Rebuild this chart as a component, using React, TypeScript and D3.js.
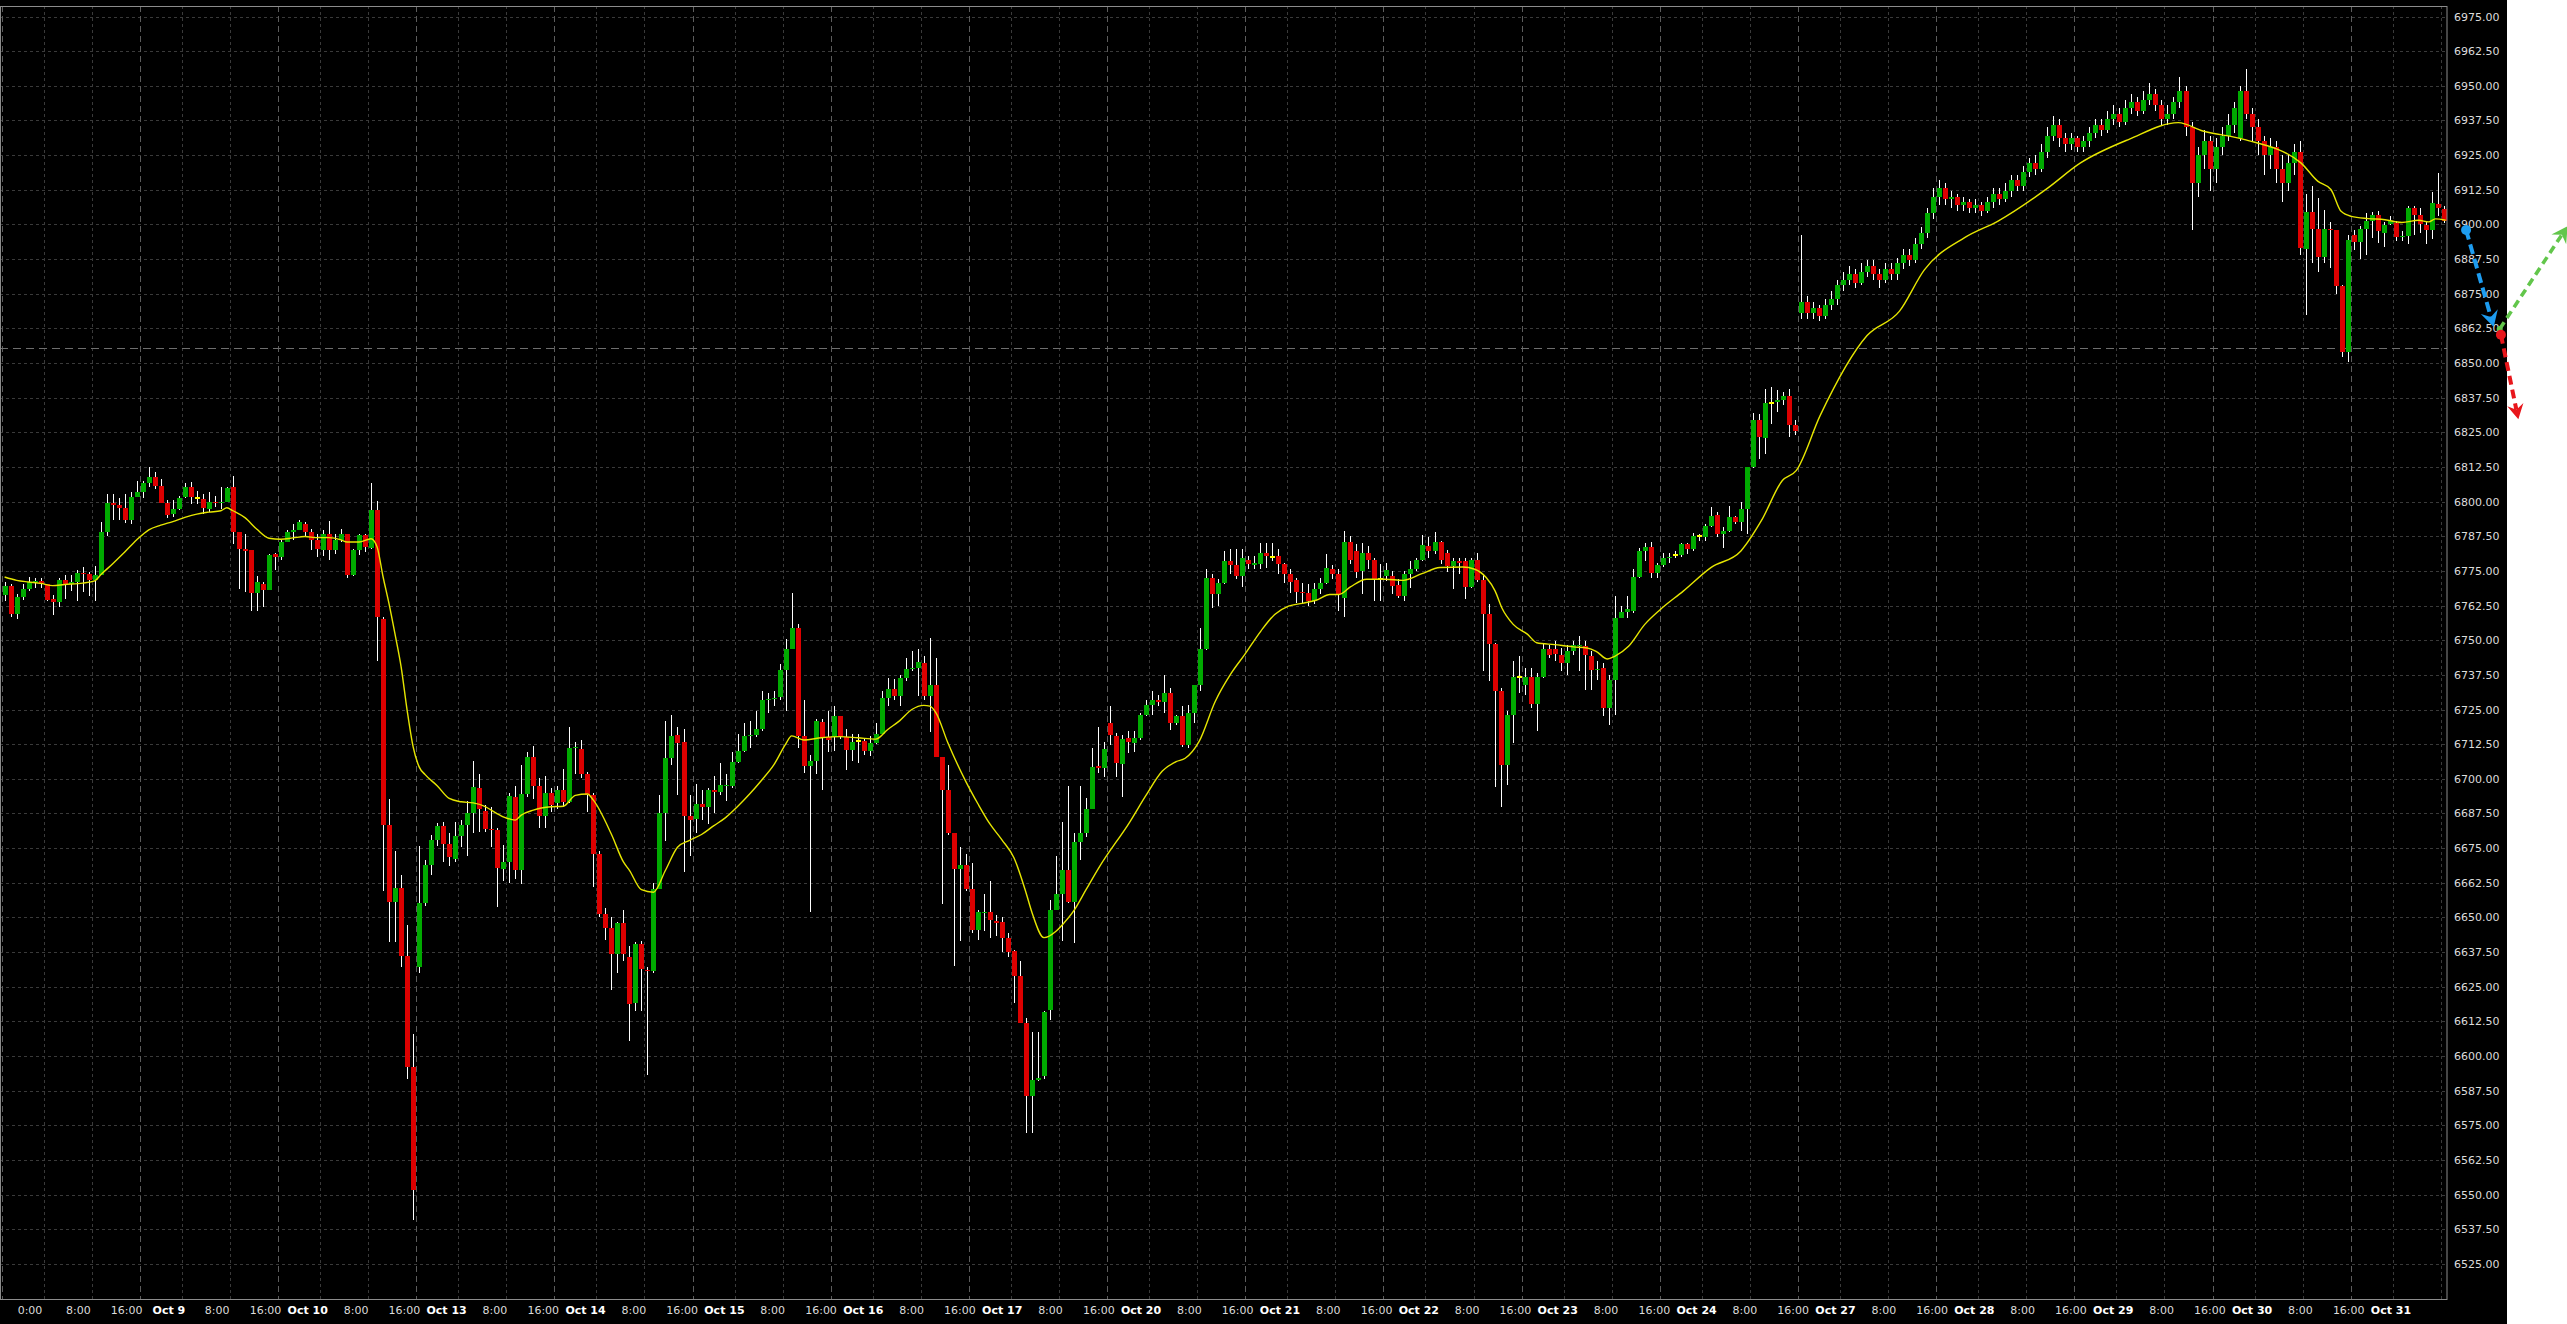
import * as d3 from "d3";

type Bar = [number, number, number, number]; // open, high, low, close

// hourly bars, one array per trading session (23 bars each)
const oct08: Bar[] = [
  [6766.2, 6771, 6764, 6769.6], [6769.6, 6770.4, 6758.4, 6759.6], [6759.6, 6766.8, 6757.8, 6765.6],
  [6765.6, 6770.2, 6764.4, 6768.4], [6768.4, 6772.8, 6767.8, 6771], [6771, 6772.5, 6769, 6771.5],
  [6771.5, 6772.4, 6769, 6770.2], [6770.2, 6770.4, 6764.2, 6764.4], [6764.8, 6766.2, 6759, 6763.7],
  [6763.7, 6772.6, 6762, 6771.6], [6771.6, 6773.4, 6765, 6770.2], [6770.2, 6773.4, 6767.8, 6771],
  [6771, 6775.2, 6764.2, 6774.4], [6774.4, 6776.4, 6767.4, 6773.8], [6773.8, 6774.6, 6765.8, 6771.6],
  [6771.6, 6776.6, 6764.2, 6773.4], [6773.4, 6792.8, 6773.4, 6789], [6789, 6802.8, 6787.6, 6799.4],
  [6799.4, 6802.6, 6793.4, 6798.6], [6798.6, 6801.4, 6793.2, 6797.6], [6797.6, 6802.6, 6792.2, 6793.4],
  [6793.2, 6803.4, 6792, 6801.8], [6801.8, 6807.6, 6801.6, 6803.4],
];
const oct09: Bar[] = [
  [6803.4, 6807.6, 6801.4, 6806.6], [6806.6, 6812.4, 6805.2, 6808.8], [6808.8, 6810.6, 6804.6, 6805.8],
  [6805.8, 6808.2, 6799.4, 6799.4], [6799.4, 6800.4, 6794.2, 6795], [6795.4, 6800.4, 6794.6, 6797.2],
  [6797.2, 6802.2, 6796.8, 6801.4], [6801.8, 6806.6, 6801.4, 6805.2], [6805.2, 6807, 6799.2, 6801.6],
  [6801.2, 6804, 6799, 6801.2], [6801, 6802.8, 6795.6, 6797.6], [6797.2, 6803.4, 6796.2, 6800],
  [6800, 6802.2, 6798, 6799.4], [6799.4, 6805.4, 6797.4, 6800], [6800, 6805.2, 6799.8, 6804.8],
  [6805.2, 6809.4, 6784.8, 6789], [6789, 6789, 6768.4, 6782.8], [6782.8, 6788.2, 6767.4, 6782],
  [6782.4, 6782.4, 6760.6, 6767], [6767, 6773, 6760.6, 6771], [6770.4, 6771, 6762, 6768],
  [6768, 6781.2, 6768, 6780.8], [6781, 6781.4, 6775.2, 6780],
];
const oct10: Bar[] = [
  [6780, 6786, 6778.8, 6785.4], [6785.4, 6789.8, 6785.4, 6789.2], [6789.2, 6792, 6786, 6789.8],
  [6789.8, 6793.2, 6789.6, 6792.6], [6792, 6792.6, 6787.2, 6789], [6789, 6790.2, 6782.4, 6786],
  [6786, 6788.4, 6780, 6783], [6782.4, 6789.6, 6780.2, 6788.4], [6788.4, 6793, 6779, 6782.4],
  [6782.4, 6788.4, 6781.2, 6786.2], [6786.2, 6790.2, 6785.4, 6788.4], [6788.2, 6788.4, 6772.6, 6773.4],
  [6773.4, 6783, 6773, 6782.4], [6782.4, 6788.4, 6780.6, 6788], [6787.8, 6788.4, 6781.8, 6783.6],
  [6783.4, 6806.6, 6783, 6796.8], [6796.8, 6800.2, 6742.5, 6758.4], [6757.6, 6758.3, 6659.4, 6683.2],
  [6683.2, 6692.8, 6641.2, 6655.6], [6655.6, 6673.8, 6641.2, 6660.6], [6660.6, 6665.4, 6632, 6636.1],
  [6636.1, 6647.2, 6591.8, 6595.9], [6595.9, 6607.8, 6541, 6551.6],
];
const oct13: Bar[] = [
  [6632, 6675.6, 6629.8, 6655.1], [6655.1, 6670.8, 6654, 6668.9], [6668.9, 6679.9, 6665.4, 6677.9],
  [6677.9, 6684, 6675.8, 6682.9], [6682.9, 6684.4, 6670, 6676.4], [6676.4, 6680.6, 6668.5, 6671.8],
  [6671.2, 6684.4, 6670, 6679.4], [6679.4, 6685.2, 6675.3, 6683.3], [6683.3, 6692, 6672.3, 6687.5],
  [6687.5, 6706.4, 6680.6, 6697], [6696.6, 6701.6, 6680.9, 6689], [6688.5, 6690.5, 6680.9, 6681.8],
  [6681.8, 6689.7, 6675.3, 6681.4], [6681.4, 6682.1, 6653.6, 6668], [6667.4, 6676, 6663.2, 6670],
  [6670, 6695, 6662.4, 6693.8], [6693.5, 6697.3, 6664, 6667], [6667, 6704.9, 6662.1, 6694.6],
  [6694.6, 6709.5, 6693.5, 6707.9], [6707.9, 6711.7, 6692.8, 6697.3], [6697.3, 6700.4, 6682.4, 6686.4],
  [6686.4, 6701.1, 6682.1, 6695], [6695, 6696.6, 6688.2, 6690.5],
];
const oct14: Bar[] = [
  [6691.3, 6697.3, 6689, 6696.1], [6695.8, 6703.4, 6689.7, 6691.5], [6691.5, 6718.6, 6691.2, 6711],
  [6711, 6713.3, 6701.9, 6711.3], [6710.7, 6714, 6700.4, 6701.6], [6701.6, 6702.6, 6688.2, 6694.3],
  [6694.3, 6695, 6660.9, 6673], [6672.7, 6673.8, 6650.3, 6651.3], [6651.3, 6653.3, 6641.9, 6646],
  [6646, 6650.3, 6623.7, 6636.9], [6636.9, 6648.4, 6629.8, 6648], [6648, 6652.5, 6634.3, 6636.9],
  [6635.8, 6639.6, 6605.5, 6618.7], [6619.1, 6641.2, 6616.1, 6640.4], [6640.4, 6641.5, 6616.1, 6631.3],
  [6631, 6632, 6593.3, 6630.6], [6630.8, 6662.4, 6629.8, 6660.4], [6660.4, 6694.3, 6660.1, 6687.8],
  [6687.8, 6720.8, 6677.6, 6707.6], [6707.6, 6723.1, 6704.9, 6715.5], [6715.8, 6718.6, 6694.3, 6713],
  [6713.2, 6717.8, 6666.2, 6686.4], [6686.4, 6694.3, 6672.3, 6685.2],
];
const oct15: Bar[] = [
  [6685.5, 6698.1, 6680.6, 6691], [6691, 6695.8, 6685.2, 6689.7], [6689.7, 6696.6, 6683.7, 6695.8],
  [6695.8, 6701.1, 6687.5, 6695.1], [6695.1, 6705.7, 6694.3, 6697.6], [6697.3, 6701.9, 6692, 6697.6],
  [6697.3, 6709.5, 6696.6, 6706.1], [6706.1, 6716.3, 6705.7, 6710.2], [6710.2, 6720.1, 6709.5, 6715.5],
  [6715.5, 6720.8, 6711, 6715.8], [6715.8, 6724.6, 6715.2, 6717.8], [6717.8, 6731.5, 6717.4, 6728.4],
  [6728.4, 6731, 6723.9, 6728.9], [6729, 6731.5, 6726.2, 6729.2], [6729.5, 6741.3, 6728.4, 6739.1],
  [6739.1, 6750.5, 6724.6, 6747], [6747, 6767.1, 6747, 6754.5], [6754.5, 6755.8, 6711, 6715.5],
  [6715.5, 6728.4, 6702.2, 6704.5], [6704.5, 6708.7, 6651.8, 6706.4], [6706.4, 6721.6, 6701.9, 6720.8],
  [6720.5, 6721.6, 6695.8, 6715.2], [6715.2, 6724.6, 6709.5, 6714],
];
const oct16: Bar[] = [
  [6715.2, 6726.2, 6710.2, 6722.8], [6722.8, 6722.8, 6714.3, 6715.2], [6715.2, 6717.8, 6703.1, 6710.5],
  [6710.5, 6716.3, 6706.4, 6713.3], [6713.6, 6716.3, 6705.7, 6713.6], [6713.7, 6714.8, 6708.7, 6710.2],
  [6710.2, 6715.5, 6708.3, 6712.8], [6712.8, 6720.1, 6712.5, 6716.3], [6716.3, 6731.5, 6716.3, 6729.2],
  [6729.2, 6736.5, 6726.2, 6732.5], [6732.5, 6736, 6728.4, 6729.9], [6729.9, 6737.5, 6726.2, 6736.5],
  [6736.5, 6743.6, 6735.3, 6739.5], [6739.5, 6746.2, 6739, 6740.1], [6740.1, 6746.7, 6730, 6742.1],
  [6741.6, 6744.4, 6728.4, 6729.9], [6729.9, 6750.7, 6717, 6733.7], [6733.7, 6743.6, 6707.9, 6707.9],
  [6707.9, 6707.9, 6654.8, 6696.1], [6696.1, 6704.9, 6679.9, 6680.6], [6680.6, 6680.6, 6632.4, 6667.3],
  [6667.3, 6675.3, 6641.5, 6669], [6669, 6673, 6659.4, 6660.1],
];
const oct17: Bar[] = [
  [6660.1, 6669.7, 6644.5, 6645.3], [6645.3, 6652.5, 6641.9, 6651.8], [6651.6, 6658.6, 6645, 6651.8],
  [6651.8, 6663.2, 6642.7, 6649], [6648.7, 6651, 6643.4, 6648], [6648.3, 6650.3, 6637.4, 6642.4],
  [6642.4, 6644.2, 6635.8, 6637.4], [6637.8, 6638.1, 6619.1, 6628.7], [6628.7, 6634.3, 6612, 6612],
  [6612, 6613.8, 6572.1, 6585.7], [6585.7, 6608.5, 6572.1, 6591.4], [6591.4, 6608.5, 6591, 6592.1],
  [6592.9, 6616.1, 6591.8, 6615.7], [6616.6, 6656.3, 6613, 6652.8], [6652.8, 6672.3, 6652.5, 6658.6],
  [6658.6, 6684.4, 6641.5, 6667], [6667, 6697.3, 6655.1, 6655.6], [6655.6, 6680.6, 6640.9, 6677.3],
  [6677.3, 6697.3, 6670.8, 6680.6], [6680.6, 6693, 6679.1, 6689], [6689, 6711, 6689, 6704.2],
  [6704.6, 6718.6, 6702, 6703.9], [6703.8, 6713.4, 6700.8, 6710.7],
];
const oct20: Bar[] = [
  [6720.3, 6726.1, 6712.2, 6715.9], [6715.6, 6716.4, 6700.8, 6705.6], [6705.4, 6715.9, 6693.5, 6714.3],
  [6714.6, 6717.1, 6709.2, 6713.1], [6712.8, 6717.1, 6709.8, 6714.6], [6714.6, 6723.7, 6714, 6722.9],
  [6722.9, 6728.5, 6722.5, 6726.7], [6726.7, 6731.5, 6723.1, 6728.6], [6728.6, 6730.3, 6726.1, 6727.7],
  [6727.7, 6737.6, 6723.7, 6731], [6731, 6732.8, 6717.7, 6720.1], [6720.1, 6723.1, 6719.5, 6722.5],
  [6722.5, 6726.1, 6711.6, 6712.2], [6712.2, 6726.7, 6711, 6723.7], [6723.7, 6734, 6720.1, 6733.7],
  [6733.7, 6754.5, 6731.5, 6747], [6747, 6775.6, 6746.6, 6772.3], [6772.6, 6773.8, 6761.7, 6766.5],
  [6766.5, 6772, 6762.3, 6770.8], [6770.8, 6782.2, 6770.2, 6778.6], [6778.6, 6782.8, 6773.8, 6777.2],
  [6777.2, 6782.8, 6772, 6773.2], [6773.2, 6782.8, 6769.2, 6779.8],
];
const oct21: Bar[] = [
  [6778.8, 6780.4, 6775.6, 6777.4], [6777.2, 6780.4, 6775.6, 6778], [6777.6, 6784.9, 6775.6, 6781.6],
  [6781.6, 6785.2, 6776.2, 6780.4], [6780, 6784.9, 6778.6, 6780], [6780.4, 6782.8, 6773.8, 6777.4],
  [6777.4, 6778, 6770.8, 6774], [6773.8, 6775.6, 6767.1, 6771], [6771.6, 6772.6, 6763.5, 6767.5],
  [6767.5, 6770.8, 6763.5, 6766.9], [6767.1, 6770.4, 6762.3, 6764.1], [6764.1, 6770.8, 6762.9, 6768.3],
  [6768.3, 6772.6, 6766.5, 6770.5], [6770.5, 6781, 6770.2, 6776.2], [6775.6, 6777.2, 6772, 6773.8],
  [6773.8, 6775.6, 6760.7, 6766.5], [6765.1, 6789.5, 6758.3, 6785.6], [6785.6, 6787.7, 6777.4, 6778.8],
  [6782.2, 6784.6, 6772.6, 6774.7], [6775, 6785.2, 6766.8, 6781.6], [6781.3, 6784, 6775.6, 6778.8],
  [6778.8, 6779.8, 6764.1, 6772], [6772, 6777.6, 6764.1, 6772],
];
const oct22: Bar[] = [
  [6773.2, 6778, 6771.4, 6775.2], [6773.2, 6775, 6766.5, 6769.6], [6769.9, 6772, 6765.3, 6765.9],
  [6765.9, 6775, 6764.1, 6773.8], [6773.8, 6778.6, 6769, 6775.6], [6775.6, 6779.8, 6775, 6778.8],
  [6778.8, 6788, 6778.6, 6784.3], [6784, 6787.1, 6779.8, 6782], [6782, 6788.9, 6781, 6785.5],
  [6785.5, 6785.8, 6777.4, 6778.8], [6781.6, 6782.5, 6774.7, 6776.8], [6776.6, 6779.8, 6768.3, 6778.6],
  [6778.6, 6779.6, 6773.8, 6778], [6778.6, 6779.8, 6764.7, 6769.2], [6769.2, 6779.8, 6769, 6778.8],
  [6778.8, 6781.3, 6771.1, 6771.6], [6771.6, 6773.8, 6738.8, 6759.3], [6759.3, 6762.9, 6735.2, 6748.7],
  [6748.7, 6749.1, 6697.2, 6731.5], [6731.5, 6732.7, 6689.9, 6705], [6705, 6724.3, 6697.8, 6722.9],
  [6722.9, 6742.4, 6712.8, 6736.6], [6736.9, 6744.2, 6730.9, 6736.9],
];
const oct23: Bar[] = [
  [6734, 6740, 6730.3, 6736.6], [6736.6, 6740, 6725.5, 6727], [6727, 6738.2, 6717.1, 6736.6],
  [6736.6, 6749.1, 6736.4, 6747], [6747, 6748.4, 6743.6, 6744.8], [6747, 6749.6, 6742.4, 6745.1],
  [6744.8, 6747.2, 6738.8, 6741.8], [6741.8, 6748.4, 6737.6, 6746.1], [6746.1, 6749.6, 6744.8, 6748.2],
  [6747.8, 6751.4, 6738.8, 6748.2], [6747.8, 6749.6, 6732.2, 6744.8], [6744.2, 6746, 6732.2, 6739.4],
  [6739.4, 6742.4, 6735.8, 6739.5], [6740, 6741.8, 6722.5, 6725.5], [6725.5, 6737.6, 6719.5, 6735.8],
  [6735.8, 6765.9, 6723.1, 6758.1], [6758.1, 6762.3, 6758.1, 6760.3], [6760.3, 6765.9, 6758.1, 6761.1],
  [6760.7, 6775.6, 6759.9, 6772.8], [6772.8, 6783.4, 6772.6, 6782.2], [6782.2, 6785.2, 6778.6, 6783.7],
  [6783.7, 6785.5, 6772.6, 6774.4], [6774.4, 6778, 6772.6, 6777.2],
];
const oct24: Bar[] = [
  [6777.2, 6781.6, 6776.4, 6779.6], [6779.6, 6781.6, 6778, 6780.1], [6780.7, 6782, 6779.8, 6780.7],
  [6780.7, 6785.2, 6780.1, 6784.6], [6784.6, 6785.2, 6781, 6782.8], [6782.8, 6788.5, 6782.2, 6787.7],
  [6787.7, 6788.3, 6785.8, 6787.7], [6787.4, 6791.9, 6785.8, 6791.3], [6791.3, 6798.1, 6790.7, 6794.9],
  [6795.3, 6796.1, 6787.1, 6788.3], [6788.3, 6790.7, 6783.4, 6789.5], [6789.5, 6798.5, 6788.9, 6794.3],
  [6794.3, 6794.9, 6791.9, 6792.8], [6792.8, 6799.7, 6789.5, 6797.3], [6797.3, 6812.6, 6788.3, 6812.6],
  [6812.6, 6831.9, 6812.1, 6829.3], [6829.3, 6831.7, 6815.4, 6823.2], [6823, 6840.7, 6817.2, 6835.7],
  [6835.6, 6841.3, 6828.1, 6835.6], [6835.9, 6840.4, 6832.3, 6836.8], [6836.8, 6839.5, 6834.7, 6838],
  [6838, 6840.7, 6823.2, 6827.5], [6827.5, 6829.3, 6823.9, 6825.4],
];
const oct27: Bar[] = [
  [6868, 6896, 6866, 6872], [6872, 6874, 6866, 6868], [6868, 6872, 6866, 6870], [6870, 6871, 6865, 6867],
  [6867, 6873, 6866, 6871], [6871, 6876, 6869, 6873], [6873, 6880, 6871, 6878], [6878, 6883, 6876, 6880],
  [6880, 6885, 6878, 6882], [6882, 6884, 6877, 6879], [6879, 6886, 6878, 6883], [6883, 6887, 6881, 6885],
  [6885, 6887, 6880, 6882], [6882, 6884, 6877, 6880], [6880, 6886, 6879, 6884], [6884, 6886, 6880, 6882],
  [6882, 6888, 6880, 6886], [6886, 6891, 6884, 6889], [6889, 6891, 6885, 6887], [6887, 6895, 6886, 6893],
  [6893, 6899, 6891, 6897], [6897, 6906, 6895, 6904], [6904, 6913, 6902, 6910],
];
const oct28: Bar[] = [
  [6910, 6916, 6907, 6913], [6913, 6915, 6907, 6909], [6909, 6912, 6906, 6910], [6910, 6911, 6905, 6907],
  [6907, 6910, 6905, 6908], [6908, 6909, 6904, 6906], [6906, 6909, 6904, 6907], [6907, 6908, 6903, 6905],
  [6905, 6910, 6904, 6908], [6908, 6913, 6906, 6911], [6911, 6913, 6907, 6909], [6909, 6915, 6908, 6912],
  [6912, 6918, 6910, 6916], [6916, 6918, 6912, 6914], [6914, 6921, 6912, 6919], [6919, 6924, 6917, 6922],
  [6922, 6925, 6918, 6920], [6920, 6929, 6919, 6926], [6926, 6935, 6924, 6932], [6932, 6939, 6930, 6936],
  [6936, 6938, 6928, 6931], [6931, 6933, 6926, 6929], [6929, 6933, 6927, 6931],
];
const oct29: Bar[] = [
  [6931, 6932, 6926, 6928], [6928, 6932, 6926, 6930], [6930, 6935, 6928, 6933], [6933, 6938, 6931, 6936],
  [6936, 6938, 6932, 6934], [6934, 6941, 6933, 6938], [6938, 6943, 6936, 6940], [6940, 6942, 6935, 6937],
  [6937, 6945, 6936, 6942], [6942, 6947, 6940, 6944], [6944, 6946, 6939, 6941], [6941, 6948, 6940, 6945],
  [6945, 6951, 6943, 6947], [6947, 6949, 6941, 6943], [6943, 6945, 6936, 6938], [6938, 6943, 6936, 6940],
  [6940, 6946, 6938, 6944], [6944, 6953, 6942, 6948], [6948, 6950, 6932, 6935], [6935, 6937, 6898, 6915],
  [6915, 6928, 6910, 6925], [6925, 6934, 6920, 6930], [6930, 6932, 6912, 6920],
];
const oct30: Bar[] = [
  [6920, 6931, 6915, 6928], [6928, 6935, 6925, 6932], [6932, 6940, 6930, 6936], [6936, 6944, 6933, 6942],
  [6931, 6950, 6930, 6948], [6948, 6956, 6938, 6940], [6940, 6942, 6930, 6935], [6935, 6938, 6925, 6930],
  [6930, 6932, 6918, 6925], [6925, 6931, 6920, 6928], [6928, 6930, 6915, 6920], [6920, 6925, 6908, 6915],
  [6915, 6925, 6912, 6922], [6922, 6929, 6918, 6926], [6926, 6930, 6889, 6891.5], [6891.2, 6910.8, 6867.3, 6904.4],
  [6904.4, 6914, 6886, 6898.5], [6898.5, 6909.5, 6883, 6888.1], [6888.1, 6905.3, 6886, 6898.5],
  [6898.5, 6900.7, 6884.2, 6897.8], [6898.1, 6898.1, 6874.9, 6877.6], [6877.6, 6878.2, 6852.3, 6853.8],
  [6854.1, 6896.3, 6850.4, 6894.5],
];
const oct31: Bar[] = [
  [6896.3, 6898.1, 6890.8, 6893.5], [6893.5, 6899.3, 6887.5, 6898.5], [6898.5, 6904.1, 6889, 6901.3],
  [6901.3, 6904.4, 6895, 6903.4], [6903.4, 6905, 6893.3, 6897.5], [6896.9, 6900.7, 6892, 6899.9],
  [6900.3, 6903.2, 6899.9, 6901.3], [6900.5, 6901.1, 6893.9, 6895.4], [6895.4, 6897.5, 6893.9, 6895.9],
  [6895.9, 6906.5, 6893, 6905.9], [6905.9, 6906.5, 6896.3, 6903.5], [6903.5, 6905.9, 6896.9, 6900.3],
  [6899.9, 6901.1, 6893, 6897.8], [6898.1, 6911.6, 6894.7, 6907.7], [6907.5, 6918.6, 6902.9, 6905.8],
  [6905.7, 6906.5, 6900.5, 6901.1],
];

const sessionBars = [oct08, oct09, oct10, oct13, oct14, oct15, oct16, oct17, oct20, oct21, oct22, oct23, oct24, oct27, oct28, oct29, oct30, oct31];
const sessionLabels = ["0:00", "Oct 9", "Oct 10", "Oct 13", "Oct 14", "Oct 15", "Oct 16", "Oct 17", "Oct 20", "Oct 21", "Oct 22", "Oct 23", "Oct 24", "Oct 27", "Oct 28", "Oct 29", "Oct 30", "Oct 31"];
const hoursPerSession = 23;
const intradayHours = [8, 16];
const intradayLabels = ["8:00", "16:00"];

const yTicks = [6975, 6962.5, 6950, 6937.5, 6925, 6912.5, 6900, 6887.5, 6875, 6862.5, 6850, 6837.5, 6825, 6812.5, 6800, 6787.5, 6775, 6762.5, 6750, 6737.5, 6725, 6712.5, 6700, 6687.5, 6675, 6662.5, 6650, 6637.5, 6625, 6612.5, 6600, 6587.5, 6575, 6562.5, 6550, 6537.5, 6525];

// moving average at bar positions
const maBar = [0, 2, 4, 6, 8, 10, 13, 15, 16, 18, 20, 22, 24, 26, 28, 30, 32, 34, 36, 37, 38, 40, 42, 44, 46, 48, 50, 52, 54, 56, 57, 59, 61, 62, 63, 64, 65, 66, 67, 68, 69, 70, 72, 74, 76, 78, 80, 81, 83, 85, 86, 88, 91, 93, 95, 97, 98, 101, 103, 104, 106, 108, 110, 112, 114, 116, 118, 120, 122, 124, 126, 128, 130, 131, 133, 136, 139, 142, 145, 147, 149, 151, 153, 154, 155, 157, 160, 162, 164, 166, 168, 170, 171, 173, 175, 176, 178, 180, 182.3, 187.3, 190, 192.7, 195, 196.5, 198.8, 201.5, 204.2, 206.4, 209.1, 211.4, 213.7, 216, 218.3, 220.6, 222.1, 224, 226.7, 229.8, 232.8, 235.9, 238.9, 242.7, 244.7, 246.6, 248.1, 249.2, 251.1, 253.5, 255, 258, 261.1, 263.4, 264.9, 266.8, 268, 270.3, 273, 275.6, 279.4, 284, 289, 292.4, 295.9, 298.2, 302.2, 310, 315.4, 319.5, 326.3, 331.8, 340, 345.4, 353.6, 361.8, 365.9, 372.7, 382.2, 385, 387.2, 388.9, 390.6, 393.4, 396.2, 399, 401.8, 403.5, 404.6, 406.3];
const maPrice = [6772.8, 6771.6, 6771, 6770.5, 6769.7, 6770.1, 6770.6, 6771.4, 6773.6, 6777.6, 6781.8, 6786.2, 6789.8, 6791.5, 6792.8, 6794.3, 6795.5, 6796.2, 6796.7, 6797.8, 6796.7, 6794.2, 6790, 6786.8, 6786.4, 6786.9, 6787.4, 6787, 6787, 6786.2, 6785.4, 6785.4, 6786.6, 6783.6, 6772.8, 6763, 6752, 6740.4, 6724.7, 6711.5, 6704.3, 6701.5, 6697.5, 6692.9, 6691.7, 6691.3, 6690, 6688.7, 6686.3, 6685.1, 6686.9, 6688.7, 6689.9, 6690.1, 6694, 6694.5, 6692.3, 6680, 6670, 6667, 6660, 6659.1, 6667, 6675.3, 6677.8, 6679.9, 6683, 6686, 6690, 6694.5, 6699.5, 6704.9, 6712.5, 6715.5, 6714, 6714.8, 6715.2, 6714.8, 6714.3, 6717.8, 6721, 6725, 6726.5, 6726.2, 6723.9, 6713, 6699, 6691, 6683.7, 6678, 6671.5, 6659, 6651.8, 6642.7, 6645, 6647.2, 6652.5, 6660, 6668.5, 6684.5, 6694.1, 6702.8, 6706.2, 6707.4, 6713.4, 6727.9, 6738.2, 6744.8, 6753.3, 6759.3, 6762.3, 6763.3, 6764.4, 6766.5, 6766.5, 6769.2, 6772, 6772, 6771.6, 6774, 6776.2, 6776.4, 6775.6, 6772.6, 6767.7, 6761.7, 6755.7, 6752.1, 6749.1, 6748.4, 6747.6, 6747.2, 6746, 6743.2, 6744.2, 6747.8, 6755.7, 6761.1, 6767.7, 6776.2, 6782.2, 6793.1, 6807.6, 6811.2, 6831.1, 6859.9, 6868.7, 6883.5, 6895.3, 6901.2, 6913, 6922, 6930.7, 6936.7, 6933.7, 6930.7, 6922.2, 6915.6, 6912.6, 6904.7, 6902.9, 6902.1, 6901.7, 6900.7, 6901.5, 6900.9, 6902, 6901.5];

const markerLevel = 6855.5;

// hand-drawn projection arrows: [bar, price] start and end
const arrowFrom: [number, number][] = [[409.7, 6898.0], [415.3, 6862.3], [415.5, 6860.2]];
const arrowTo: [number, number][] = [[414.3, 6863.0], [426.6, 6899.4], [418.4, 6829.7]];

export default function App() {
  const W = 2567;
  const H = 1324;
  const darkWidth = 2507;
  const plot = { left: 0, top: 6, right: 2447, bottom: 1299 };

  const bars = sessionBars.flat();

  const x = d3.scaleLinear().domain([0, 406]).range([4.6, 4.6 + 406 * 6.008]);
  const y = d3.scaleLinear().domain([6975, 6525]).range([16.5, 16.5 + 450 * 2.772]);
  const labelX = d3.scaleLinear().domain([0, 17 * hoursPerSession]).range([30, 2391]);

  const font = "'DejaVu Sans', Verdana, sans-serif";

  // vertical grid: dashed at session boundaries, dotted inside
  const vSep: number[] = [];
  const vDot: number[] = [];
  sessionBars.forEach((_, k) => {
    const b = k * hoursPerSession - 0.5;
    vSep.push(x(b));
    [7, 15].forEach((o) => {
      const px = x(b + o);
      if (px < plot.right) vDot.push(px);
    });
  });

  const maLine = d3
    .line<number>()
    .x((d) => x(maBar[d]))
    .y((d) => y(maPrice[d]))
    .curve(d3.curveMonotoneX)(d3.range(maBar.length));

  const timeLabels: { t: string; pos: number; bold: boolean }[] = [];
  sessionLabels.forEach((name, k) => {
    const base = k * hoursPerSession;
    timeLabels.push({ t: name, pos: labelX(base), bold: k > 0 });
    if (k < sessionLabels.length - 1) {
      intradayHours.forEach((h, j) => timeLabels.push({ t: intradayLabels[j], pos: labelX(base + h), bold: false }));
    }
  });

  const arrowStyles = [
    { color: "#1d9cf0", width: 4, dash: "10,5", head: 16, dot: 5 },
    { color: "#62c64b", width: 3.6, dash: "8,5", head: 16, dot: 3 },
    { color: "#e8161b", width: 4, dash: "9,5", head: 15, dot: 5 },
  ];

  const arrows = arrowFrom.map((f, k) => {
    const s = arrowStyles[k];
    const p0 = [x(f[0]), y(f[1])];
    const p1 = [x(arrowTo[k][0]), y(arrowTo[k][1])];
    const dx = p1[0] - p0[0];
    const dy = p1[1] - p0[1];
    const len = Math.hypot(dx, dy);
    const ux = dx / len;
    const uy = dy / len;
    const nx = -uy;
    const ny = ux;
    const L = s.head;
    const w = s.head * 0.55;
    const bx = p1[0] - ux * L;
    const by = p1[1] - uy * L;
    const notchX = p1[0] - ux * L * 0.65;
    const notchY = p1[1] - uy * L * 0.65;
    const head = `M${p1[0]},${p1[1]} L${bx + nx * w},${by + ny * w} L${notchX},${notchY} L${bx - nx * w},${by - ny * w} Z`;
    return { s, p0, p1, notchX, notchY, head };
  });

  return (
    <div style={{ position: "absolute", left: 0, top: 0 }}>
      <svg width={W} height={H} style={{ display: "block" }}>
        <defs>
          <clipPath id="plotClip">
            <rect x={plot.left} y={plot.top} width={plot.right - plot.left} height={plot.bottom - plot.top} />
          </clipPath>
        </defs>
        <rect x={0} y={0} width={W} height={H} fill="#ffffff" />
        <rect x={0} y={0} width={darkWidth} height={H} fill="#000000" />

        <g clipPath="url(#plotClip)">
          {yTicks.map((t) => (
            <line key={`h${t}`} x1={plot.left} x2={plot.right} y1={Math.round(y(t)) + 0.5} y2={Math.round(y(t)) + 0.5}
              stroke="#3a3a3a" strokeDasharray="3,3" />
          ))}
          {vDot.map((px, k) => (
            <line key={`vd${k}`} x1={Math.round(px) + 0.5} x2={Math.round(px) + 0.5} y1={plot.top} y2={plot.bottom}
              stroke="#3a3a3a" strokeDasharray="3,3" />
          ))}
          {vSep.map((px, k) => (
            <line key={`vs${k}`} x1={Math.round(px) + 0.5} x2={Math.round(px) + 0.5} y1={plot.top} y2={plot.bottom}
              stroke="#5c5c5c" strokeDasharray="6,4" />
          ))}
          <line x1={plot.left} x2={plot.right} y1={Math.round(y(markerLevel)) + 0.5} y2={Math.round(y(markerLevel)) + 0.5}
            stroke="#6e6e6e" strokeDasharray="8,5" />

          {bars.map((b, i) => {
            const [o, h, l, c] = b;
            const cx = Math.round(x(i));
            const top = y(Math.max(o, c));
            const bot = y(Math.min(o, c));
            const doji = o === c;
            return (
              <g key={i}>
                <line x1={cx + 0.5} x2={cx + 0.5} y1={Math.round(y(h))} y2={Math.round(y(l))} stroke="#ffffff" strokeWidth={1} />
                {doji ? (
                  <rect x={cx - 2} y={Math.round(top) - 1} width={5} height={2} fill="#ffff00" />
                ) : (
                  <rect x={cx - 2} y={Math.round(top)} width={5} height={Math.max(1, Math.round(bot) - Math.round(top))}
                    fill={c > o ? "#00aa00" : "#dd0000"} />
                )}
              </g>
            );
          })}

          <path d={maLine ?? ""} fill="none" stroke="#e6e600" strokeWidth={1.4} />
        </g>

        <rect x={plot.left + 0.5} y={plot.top + 0.5} width={plot.right - plot.left - 0.5} height={plot.bottom - plot.top}
          fill="none" stroke="#8c8c8c" strokeWidth={1} />

        {yTicks.map((t) => (
          <text key={`yl${t}`} x={2454} y={y(t) + 4} fill="#dcdcdc" fontFamily={font} fontSize={11}>
            {t.toFixed(2)}
          </text>
        ))}

        {timeLabels.map((lb, k) => (
          <text key={`xl${k}`} x={lb.pos} y={1314} textAnchor="middle" fill={lb.bold ? "#ffffff" : "#dcdcdc"}
            fontFamily={font} fontSize={11} fontWeight={lb.bold ? "bold" : "normal"}>
            {lb.t}
          </text>
        ))}

        {arrows.map((a, k) => (
          <g key={`ar${k}`}>
            <line x1={a.p0[0]} y1={a.p0[1]} x2={a.notchX} y2={a.notchY} stroke={a.s.color} strokeWidth={a.s.width}
              strokeDasharray={a.s.dash} />
            <path d={a.head} fill={a.s.color} />
            <circle cx={a.p0[0]} cy={a.p0[1]} r={a.s.dot} fill={a.s.color} />
          </g>
        ))}
      </svg>
    </div>
  );
}
